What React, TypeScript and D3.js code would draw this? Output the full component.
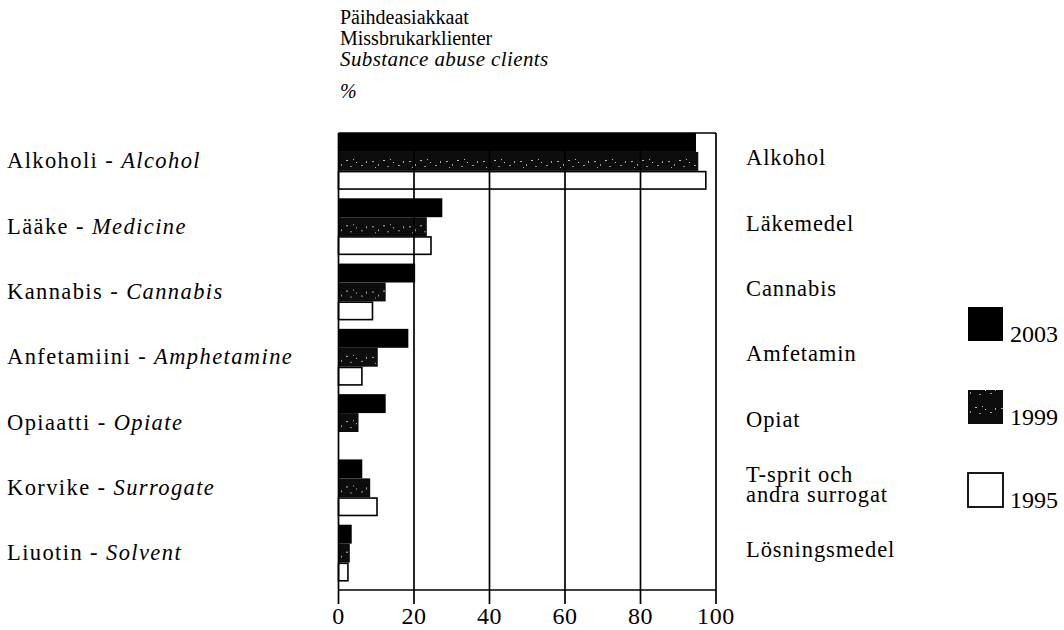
import React from "react";
import * as d3 from "d3";

// substance abuse clients by substance, %
const categoriesFi = ["Alkoholi", "Lääke", "Kannabis", "Anfetamiini", "Opiaatti", "Korvike", "Liuotin"];
const categoriesEn = ["Alcohol", "Medicine", "Cannabis", "Amphetamine", "Opiate", "Surrogate", "Solvent"];
const categoriesSv = [
  ["Alkohol"],
  ["Läkemedel"],
  ["Cannabis"],
  ["Amfetamin"],
  ["Opiat"],
  ["T-sprit och", "andra surrogat"],
  ["Lösningsmedel"],
];
const years = ["2003", "1999", "1995"];
const values2003 = [94.7, 27.5, 20.3, 18.5, 12.5, 6.3, 3.5];
const values1999 = [95.3, 23.4, 12.5, 10.4, 5.3, 8.4, 3];
const values1995 = [97.3, 24.5, 9, 6.2, null, 10.2, 2.5];
const xTicks = [0, 20, 40, 60, 80, 100];
const titleLines = ["Päihdeasiakkaat", "Missbrukarklienter"];
const titleItalic = "Substance abuse clients";

const W = 1064;
const H = 630;
const FONT = "'Liberation Serif', 'Times New Roman', serif";

export default function App() {
  const x = d3.scaleLinear().domain([0, 100]).range([338.5, 716]);
  const y = d3
    .scaleBand<string>()
    .domain(categoriesFi)
    .range([133, 590])
    .paddingInner(0.13)
    .paddingOuter(0.065)
    .align(0);
  const yInner = d3.scaleBand<string>().domain(years).range([0, y.bandwidth()]);

  const series = [values2003, values1999, values1995];
  const fills = ["#000", "url(#speckle)", "#fff"];
  const legendY = [307, 390, 473];

  const top = y.range()[0];
  const bottom = y.range()[1];

  return (
    <svg
      width={W}
      height={H}
      style={{ position: "absolute", left: 0, top: 0, background: "#fff" }}
      fontFamily={FONT}
    >
      <defs>
        <pattern id="speckle" width="37" height="19" patternUnits="userSpaceOnUse">
          <rect width="37" height="19" fill="#0d0d0d" />
          <rect x="2" y="9" width="2" height="1" fill="#aaa" />
          <rect x="8" y="12" width="1" height="2" fill="#999" />
          <rect x="13" y="8" width="2" height="1" fill="#bbb" />
          <rect x="17" y="14" width="2" height="1" fill="#888" />
          <rect x="23" y="10" width="1" height="1" fill="#ccc" />
          <rect x="28" y="13" width="2" height="1" fill="#999" />
          <rect x="33" y="9" width="1" height="2" fill="#aaa" />
          <rect x="5" y="15" width="1" height="1" fill="#aaa" />
          <rect x="20" y="7" width="1" height="1" fill="#bbb" />
        </pattern>
      </defs>

      {/* title */}
      <g fontSize={20} fill="#000">
        {titleLines.map((t, i) => (
          <text key={t} x={340} y={24 + i * 21}>
            {t}
          </text>
        ))}
        <text x={340} y={66} fontStyle="italic" fontSize={21} letterSpacing={0.4}>
          {titleItalic}
        </text>
        <text x={340} y={98} fontStyle="italic">
          %
        </text>
      </g>

      {/* bars */}
      {categoriesFi.map((c, i) => (
        <g key={c} transform={`translate(0,${y(c)})`}>
          {series.map((s, j) => {
            const v = s[i];
            if (v == null) return null;
            const fill = fills[j];
            const white = fill === "#fff";
            return (
              <rect
                key={years[j]}
                x={x(0)}
                y={yInner(years[j])! + (white ? 0.75 : 0)}
                width={x(v) - x(0)}
                height={yInner.bandwidth() - (white ? 1.5 : 0)}
                fill={fill}
                stroke={white ? "#000" : "none"}
                strokeWidth={1.6}
              />
            );
          })}
        </g>
      ))}

      {/* grid, frame and axis */}
      <g stroke="#000" strokeWidth={1.7}>
        {xTicks.map((t) => (
          <line key={t} x1={x(t)} x2={x(t)} y1={top} y2={bottom + 14} />
        ))}
        <line x1={x(0)} x2={x(100)} y1={top} y2={top} />
        <line x1={x(0)} x2={x(100)} y1={bottom} y2={bottom} />
      </g>
      <g fontSize={24} textAnchor="middle">
        {xTicks.map((t) => (
          <text key={t} x={x(t)} y={624} letterSpacing={0.6}>
            {t}
          </text>
        ))}
      </g>

      {/* left labels: Finnish - English */}
      <g fontSize={22.5}>
        {categoriesFi.map((c, i) => (
          <text key={c} x={7} y={y(c)! + y.bandwidth() / 2 + 7} letterSpacing={1.4}>
            {c} - <tspan fontStyle="italic">{categoriesEn[i]}</tspan>
          </text>
        ))}
      </g>

      {/* right labels: Swedish */}
      <g fontSize={22.5}>
        {categoriesSv.map((lines, i) => {
          const cy = y(categoriesFi[i])! + y.bandwidth() / 2;
          return (
            <text key={i} x={746} letterSpacing={0.9}>
              {lines.map((l, k) => (
                <tspan key={k} x={746} y={cy + 4 + (k - (lines.length - 1) / 2) * 20}>
                  {l}
                </tspan>
              ))}
            </text>
          );
        })}
      </g>

      {/* legend */}
      <g>
        {years.map((yr, j) => (
          <g key={yr}>
            <rect
              x={968}
              y={legendY[j]}
              width={35}
              height={34}
              fill={fills[j]}
              stroke="#000"
              strokeWidth={j === 2 ? 1.8 : 0}
            />
            <text x={1010} y={legendY[j] + 35} fontSize={24}>
              {yr}
            </text>
          </g>
        ))}
      </g>
    </svg>
  );
}
